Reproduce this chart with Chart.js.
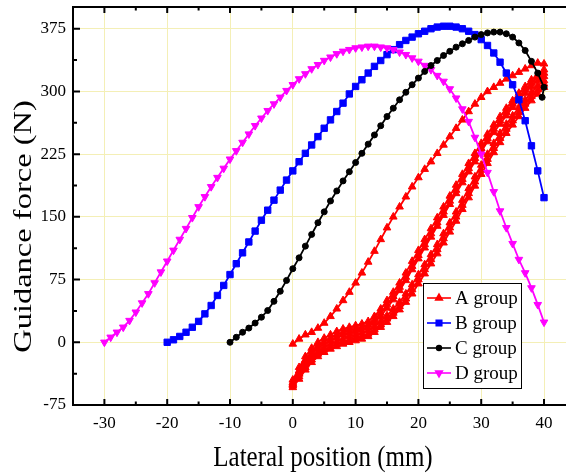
<!DOCTYPE html>
<html lang="en">
<head>
<meta charset="utf-8">
<title>Guidance force vs lateral position</title>
<script src="https://cdn.jsdelivr.net/npm/chart.js@4.4.1/dist/chart.umd.min.js"></script>
<style>
	html, body { margin: 0; background: #fff; }
	#wrap { width: 566px; height: 476px; }
</style>
</head>
<body>
<div id="wrap"><canvas id="forceChart" width="566" height="476"></canvas></div>
<script>
// lateral positions (mm) for each group
var posA = [0,1,2,3,4,5,6,7,8,9,10,11,12,13,14,15,16,17,18,19,20,21,22,23,24,25,26,27,28,29,30,31,32,33,34,35,36,37,38,39,40]
var posB = [-20,-19,-18,-17,-16,-15,-14,-13,-12,-11,-10,-9,-8,-7,-6,-5,-4,-3,-2,-1,0,1,2,3,4,5,6,7,8,9,10,11,12,13,14,15,16,17,18,19,20,21,22,23,24,25,26,27,28,29,30,31,32,33,34,35,36,37,38,39,40]
var posC = [-10,-9,-8,-7,-6,-5,-4,-3,-2,-1,0,1,2,3,4,5,6,7,8,9,10,11,12,13,14,15,16,17,18,19,20,21,22,23,24,25,26,27,28,29,30,31,32,33,34,35,36,37,38,39,40,39.7]
var posD = [-30,-29,-28,-27,-26,-25,-24,-23,-22,-21,-20,-19,-18,-17,-16,-15,-14,-13,-12,-11,-10,-9,-8,-7,-6,-5,-4,-3,-2,-1,0,1,2,3,4,5,6,7,8,9,10,11,12,13,14,15,16,17,18,19,20,21,22,23,24,25,26,27,28,29,30,31,32,33,34,35,36,37,38,39,40]

// A group: repeated sweeps 0 -> 40 -> 0 (values listed by ascending position)
var aRise1 = [-2,4,9,12,17,23,31,40,50,60,71,83,96,109,123,137,150,162,174,186,197,207,216,226,236,246,256,266,276,285,293,300,305,310,315,319,323,327,331,334,333]
var aFall1 = [-45,-30,-17,-7,0,5,9,13,16,18,20,22,25,31,40,50,60,71,83,97,110,123,136,149,162,175,188,201,214,226,238,249,260,270,280,289,298,306,314,320,326]
var aRise2 = [-50,-38,-27,-18,-11,-6,-2,1,4,7,9,11,14,19,25,32,40,48,58,69,81,93,105,117,130,143,156,170,184,198,212,225,238,250,261,271,281,290,299,307,313]
var aFall2 = [-48,-34,-21,-11,-4,1,5,9,12,14,16,18,21,27,35,45,55,66,78,91,104,117,130,143,156,169,182,195,208,220,232,244,255,265,275,285,294,302,310,317,322]
var aRise3 = [-52,-41,-30,-21,-14,-9,-5,-2,1,3,5,7,10,15,21,28,35,43,52,63,75,87,99,111,124,137,150,164,178,192,206,219,232,244,255,265,275,285,294,302,309]
var aFall3 = [-50,-37,-24,-14,-7,-2,2,6,9,11,13,15,18,24,31,41,51,62,74,87,100,113,126,139,152,165,178,191,204,216,228,240,251,261,271,281,290,298,306,313,318]
var aRise4 = [-54,-44,-33,-24,-17,-12,-8,-5,-2,0,2,4,7,12,18,24,31,39,48,58,70,82,94,106,119,132,145,159,173,187,201,214,227,239,250,260,270,280,289,297,305]

var bForce = [0,3,7,12,18,25,34,44,56,68,81,94,107,120,133,146,158,170,182,194,
	205,216,226,236,246,256,266,276,286,297,306,314,322,330,337,344,350,356,361,365,369,
	372,375,377,378,378,377,375,372,368,362,355,346,335,322,308,290,265,235,205,173]
var cForce = [0,6,12,17,23,30,38,49,61,74,
	88,101,115,129,143,156,169,181,193,204,215,
	226,237,248,259,270,280,290,299,308,316,
	324,331,337,343,348,353,357,361,365,368,
	370,371,371,369,365,358,349,336,322,305,293]
var dForce = [0,6,12,18,26,36,47,58,71,84,
	97,110,123,136,149,162,174,186,197,208,
	219,229,239,249,259,268,277,285,293,301,
	308,315,321,327,332,337,341,345,348,350,
	352,353,354,354,353,352,350,347,344,340,
	336,331,326,319,312,303,292,279,264,245,
	225,203,180,157,137,118,99,83,65,45,
	24]

var groupNames = ["A group", "B group", "C group", "D group"]
var xTicks = [-30, -20, -10, 0, 10, 20, 30, 40]
var xMinor = [-25, -15, -5, 5, 15, 25, 35]
var yTicks = [-75, 0, 75, 150, 225, 300, 375]
var yMinor = [-37.5, 37.5, 112.5, 187.5, 262.5, 337.5]

function pts(xs, ys) {
	return xs.map(function (x, i) { return { x: x, y: ys[i] } })
}

var aPoints = [].concat(
	pts(posA, aRise1),
	pts(posA, aFall1).reverse(),
	pts(posA, aRise2),
	pts(posA, aFall2).reverse(),
	pts(posA, aRise3),
	pts(posA, aFall3).reverse(),
	pts(posA, aRise4)
)

var serif = "'Liberation Serif', 'Times New Roman', serif"

function series(label, data, color, style, radius, rotation, order) {
	return {
		label: label, data: data, showLine: true,
		borderColor: color, backgroundColor: color, borderWidth: 1.8,
		pointStyle: style, pointRadius: radius, pointRotation: rotation,
		pointBorderWidth: 1, pointBackgroundColor: color, pointBorderColor: color,
		pointHoverRadius: radius, order: order
	}
}

var datasets = [
	series(groupNames[0], aPoints, "#ff0000", "triangle", 4.4, 0, 4),
	series(groupNames[1], pts(posB, bForce), "#0000ff", "rect", 4.5, 0, 3),
	series(groupNames[2], pts(posC, cForce), "#000000", "circle", 3, 0, 1),
	series(groupNames[3], pts(posD, dForce), "#ff00ff", "triangle", 4.4, 180, 2)
]

// frame on top + inward tick marks, titles, legend
var framePlugin = {
	id: "frame",
	afterDraw: function (chart) {
		var ctx = chart.ctx, a = chart.chartArea, x = chart.scales.x, y = chart.scales.y
		ctx.save()
		ctx.strokeStyle = "#000"
		ctx.lineWidth = 2
		ctx.beginPath()
		ctx.moveTo(a.left, a.top); ctx.lineTo(a.right, a.top)
		xTicks.forEach(function (v) {
			var p = x.getPixelForValue(v)
			ctx.moveTo(p, a.bottom); ctx.lineTo(p, a.bottom - 6)
			ctx.moveTo(p, a.top); ctx.lineTo(p, a.top + 6)
		})
		xMinor.forEach(function (v) {
			var p = x.getPixelForValue(v)
			ctx.moveTo(p, a.bottom); ctx.lineTo(p, a.bottom - 3.5)
			ctx.moveTo(p, a.top); ctx.lineTo(p, a.top + 3.5)
		})
		yTicks.forEach(function (v) {
			var p = y.getPixelForValue(v)
			ctx.moveTo(a.left, p); ctx.lineTo(a.left + 7, p)
		})
		yMinor.forEach(function (v) {
			var p = y.getPixelForValue(v)
			ctx.moveTo(a.left, p); ctx.lineTo(a.left + 4, p)
		})
		ctx.stroke()

		// axis titles (slightly tall lettering like the original)
		ctx.fillStyle = "#000"
		ctx.font = "25px " + serif
		ctx.textAlign = "center"
		ctx.textBaseline = "alphabetic"
		ctx.save()
		ctx.translate(323, 466)
		ctx.scale(1, 1.2)
		ctx.fillText("Lateral position (mm)", 0, 0)
		ctx.restore()
		ctx.save()
		ctx.translate(30.5, 226.5)
		ctx.rotate(-Math.PI / 2)
		ctx.scale(1.3, 1)
		ctx.fillText("Guidance force (N)", 0, 0)
		ctx.restore()

		// legend box inside plot
		var bx = 423, by = 283, bw = 98, bh = 105
		ctx.fillStyle = "#fff"
		ctx.fillRect(bx, by, bw, bh)
		ctx.lineWidth = 1
		ctx.strokeStyle = "#000"
		ctx.strokeRect(bx + 0.5, by + 0.5, bw, bh)
		ctx.font = "19px " + serif
		ctx.textAlign = "left"
		ctx.textBaseline = "middle"
		chart.data.datasets.forEach(function (ds, i) {
			var ly = by + 15 + i * 25
			ctx.strokeStyle = ds.borderColor
			ctx.lineWidth = 1.6
			ctx.beginPath(); ctx.moveTo(bx + 4, ly); ctx.lineTo(bx + 28, ly); ctx.stroke()
			ctx.fillStyle = ds.borderColor
			Chart.helpers.drawPoint(ctx, {
				pointStyle: ds.pointStyle, radius: ds.pointRadius - 0.6, rotation: ds.pointRotation, borderWidth: 1
			}, bx + 16, ly)
			ctx.fillStyle = "#000"
			ctx.fillText(ds.label, bx + 32, ly + 1)
		})
		ctx.restore()
	}
}

var chart = new Chart("forceChart", {
	type: "scatter",
	data: { datasets: datasets },
	options: {
		responsive: false,
		animation: false,
		layout: { autoPadding: false, padding: { top: 7, left: 0, right: 0, bottom: 0 } },
		plugins: { legend: { display: false }, tooltip: { enabled: false } },
		scales: {
			x: {
				type: "linear", min: -35, max: 43.5,
				afterBuildTicks: function (s) { s.ticks = xTicks.map(function (v) { return { value: v } }) },
				afterFit: function (s) { s.height = 71; s.paddingLeft = 0; s.paddingRight = 0 },
				grid: { color: "#f4efb6", lineWidth: 1, drawTicks: false },
				border: { color: "#000", width: 2 },
				ticks: { color: "#000", padding: 8, maxRotation: 0, font: { family: serif, size: 17 } },
				title: { display: false }
			},
			y: {
				type: "linear", min: -75, max: 401,
				afterBuildTicks: function (s) { s.ticks = yTicks.map(function (v) { return { value: v } }) },
				afterFit: function (s) { s.width = 73; s.paddingTop = 0; s.paddingBottom = 0 },
				grid: { color: "#f4efb6", lineWidth: 1, drawTicks: false },
				border: { color: "#000", width: 2 },
				ticks: { color: "#000", padding: 7, font: { family: serif, size: 17 } },
				title: { display: false }
			}
		}
	},
	plugins: [framePlugin]
})
</script>
</body>
</html>
